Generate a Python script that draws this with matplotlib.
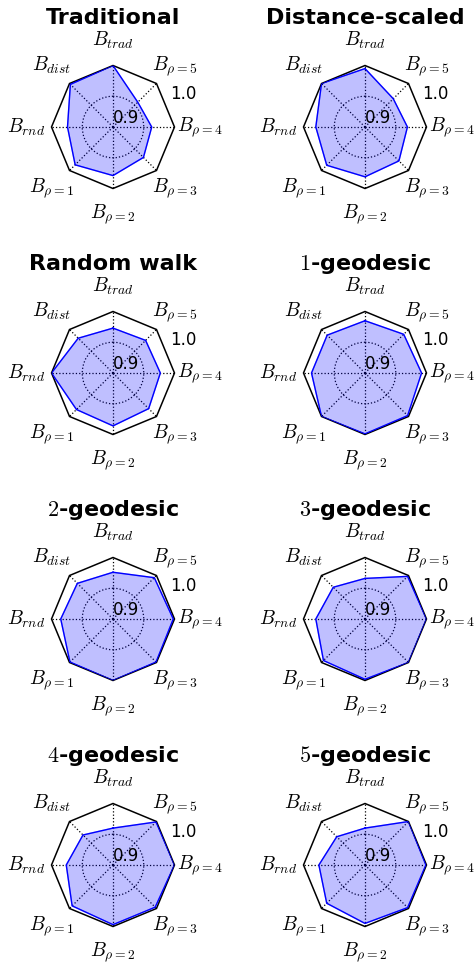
import numpy as np
import matplotlib
matplotlib.use("Agg")
from matplotlib import pyplot as plt
from matplotlib.patches import RegularPolygon
from matplotlib.path import Path
from matplotlib.projections import register_projection
from matplotlib.projections.polar import PolarAxes
from matplotlib.spines import Spine
from matplotlib.transforms import Affine2D

plt.rcParams['mathtext.fontset'] = 'cm'
plt.rcParams['font.family'] = ['DejaVu Sans']

# spokes, clockwise from the top
spoke_labels = [r'$B_{trad}$', r'$B_{\rho=5}$', r'$B_{\rho=4}$', r'$B_{\rho=3}$',
                r'$B_{\rho=2}$', r'$B_{\rho=1}$', r'$B_{rnd}$', r'$B_{dist}$']

titles = ['Traditional', 'Distance-scaled', 'Random walk', r'$1$-geodesic',
          r'$2$-geodesic', r'$3$-geodesic', r'$4$-geodesic', r'$5$-geodesic']

traditional = [1.000, 0.957, 0.963, 0.970, 0.979, 0.987, 0.974, 0.998]
distance_scaled = [0.995, 0.965, 0.969, 0.978, 0.981, 0.988, 0.980, 1.000]
random_walk = [0.973, 0.975, 0.977, 0.982, 0.986, 0.984, 1.000, 0.980]
geodesic_1 = [0.985, 0.989, 0.992, 0.998, 0.999, 1.000, 0.987, 0.987]
geodesic_2 = [0.976, 0.995, 0.998, 0.999, 1.000, 0.999, 0.985, 0.982]
geodesic_3 = [0.966, 0.998, 1.000, 1.000, 0.998, 0.9955, 0.980, 0.973]
geodesic_4 = [0.960, 0.999, 1.000, 0.997, 0.997, 0.994, 0.976, 0.969]
geodesic_5 = [0.960, 1.000, 0.999, 0.998, 0.995, 0.988, 0.975, 0.965]

series = [traditional, distance_scaled, random_walk, geodesic_1,
          geodesic_2, geodesic_3, geodesic_4, geodesic_5]

r_min, r_max = 0.9, 1.0
N = len(spoke_labels)


class RadarAxes(PolarAxes):
    name = 'radar'

    def __init__(self, *args, **kwargs):
        super().__init__(*args, **kwargs)
        self.set_theta_zero_location('N')
        self.set_theta_direction(-1)

    def _gen_axes_patch(self):
        return RegularPolygon((0.5, 0.5), N, radius=0.5, edgecolor='k')

    def _gen_axes_spines(self):
        spine = Spine(axes=self, spine_type='circle', path=Path.unit_regular_polygon(N))
        spine.set_transform(Affine2D().scale(0.5).translate(0.5, 0.5) + self.transAxes)
        return {'polar': spine}


register_projection(RadarAxes)

W, H = 474, 965
fig = plt.figure(figsize=(W / 100, H / 100), dpi=100)

theta = np.linspace(0, 2 * np.pi, N, endpoint=False)
size = 123  # px, frame diameter
col_x = [113, 365]
row_y = [127, 373, 619, 865]

for i, (title, vals) in enumerate(zip(titles, series)):
    cx = col_x[i % 2]
    cy = row_y[i // 2]
    ax = fig.add_axes([(cx - size / 2) / W, 1 - (cy + size / 2) / H, size / W, size / H],
                      projection='radar')
    ax.set_ylim(r_min, r_max)
    ax.set_yticks([0.95])
    ax.set_yticklabels([])
    ax.set_xticks(theta)
    ax.set_xticklabels([])
    ax.grid(True, color='k', linestyle=':', linewidth=0.9)
    ax.spines['polar'].set_linewidth(1.1)

    # close the polygon
    t = np.r_[theta, theta[0]]
    v = np.r_[vals, vals[0]]
    ax.fill(t, v, color='b', alpha=0.25, zorder=2)
    ax.plot(t, v, color='b', linewidth=1.0, zorder=3)

    for ang, lab in zip(theta, spoke_labels):
        ax.text(ang, r_min + 1.41 * (r_max - r_min), lab, ha='center', va='center',
                fontsize=14)

    ax.text(np.deg2rad(67.5), r_max, '1.0', ha='left', va='bottom', fontsize=12)
    ax.text(0, r_min, '0.9', ha='left', va='bottom', fontsize=12)

    ax.text(0.5, 1.336, title, transform=ax.transAxes, ha='center', va='baseline',
            fontsize=16, fontweight='bold')

plt.savefig('out.png', dpi=100)
